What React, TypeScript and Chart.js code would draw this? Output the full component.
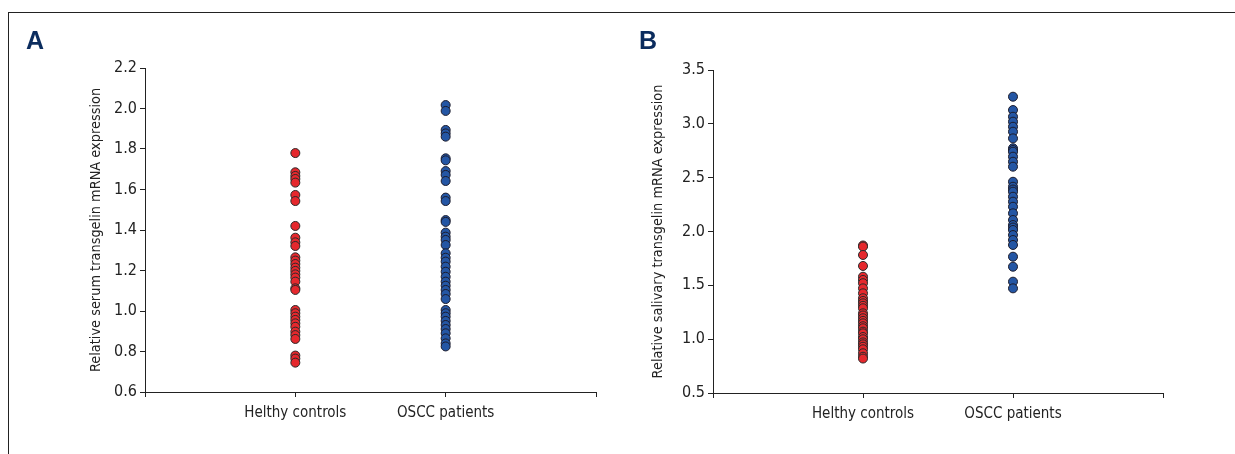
import React, { useEffect, useRef } from "react";
import { Chart, registerables } from "chart.js";

Chart.register(...registerables);

// Panel A: serum
const serumControls = [
  1.78, 1.685, 1.667, 1.652, 1.634, 1.573, 1.543, 1.42, 1.362, 1.339, 1.321,
  1.265, 1.249, 1.232, 1.214, 1.198, 1.181, 1.165, 1.145, 1.112, 1.104, 1.005,
  0.989, 0.972, 0.956, 0.939, 0.922, 0.898, 0.881, 0.862, 0.78, 0.765, 0.745,
];
const serumOSCC = [
  2.017, 1.988, 1.894, 1.877, 1.861, 1.754, 1.744, 1.691, 1.672, 1.642, 1.56,
  1.543, 1.449, 1.44, 1.387, 1.367, 1.351, 1.326, 1.285, 1.263, 1.244, 1.219,
  1.194, 1.169, 1.145, 1.125, 1.104, 1.084, 1.059, 1.005, 0.989, 0.972, 0.951,
  0.931, 0.911, 0.89, 0.865, 0.84, 0.825,
];
// Panel B: saliva
const salivaControls = [
  1.87, 1.86, 1.782, 1.68, 1.58, 1.55, 1.52, 1.472, 1.426, 1.38, 1.355, 1.333,
  1.31, 1.287, 1.24, 1.22, 1.194, 1.17, 1.147, 1.12, 1.101, 1.07, 1.054, 1.02,
  0.999, 0.97, 0.952, 0.93, 0.906, 0.869, 0.837, 0.82,
];
const salivaOSCC = [
  3.252, 3.128, 3.066, 3.02, 2.973, 2.927, 2.865, 2.773, 2.757, 2.741, 2.695,
  2.648, 2.602, 2.462, 2.416, 2.39, 2.37, 2.323, 2.277, 2.23, 2.169, 2.107,
  2.06, 2.037, 2.014, 1.967, 1.921, 1.875, 1.766, 1.673, 1.534, 1.472,
];

const groupLabels = ["", "Helthy controls", "OSCC patients", ""];

const FONT = '"DejaVu Sans Condensed", "Liberation Sans Narrow", "Noto Sans", sans-serif';
const RED = "#e5282d";
const BLUE = "#2456a4";
const INK = "#222222";

type PanelCfg = {
  controls: number[];
  oscc: number[];
  min: number;
  max: number;
  step: number;
  title: string;
  padLeft: number;
  padTop: number;
  padRight: number;
  yWidth: number;
  xHeight: number;
};

function makeConfig(p: PanelCfg): any {
  return {
    type: "scatter",
    data: {
      datasets: [
        {
          data: p.controls.map((v) => ({ x: 1, y: v })),
          backgroundColor: RED,
          borderColor: "#2a2a2a",
          borderWidth: 1,
          pointRadius: 4.5,
        },
        {
          data: p.oscc.map((v) => ({ x: 2, y: v })),
          backgroundColor: BLUE,
          borderColor: "#1c1c2c",
          borderWidth: 1,
          pointRadius: 4.5,
        },
      ],
    },
    options: {
      animation: false,
      responsive: false,
      maintainAspectRatio: false,
      events: [],
      layout: { padding: { left: p.padLeft, top: p.padTop, right: p.padRight, bottom: 0 } },
      plugins: { legend: { display: false }, tooltip: { enabled: false } },
      scales: {
        x: {
          type: "linear",
          min: 0,
          max: 3,
          afterFit: (s: any) => {
            s.height = p.xHeight;
          },
          afterBuildTicks: (s: any) => {
            s.ticks = [0, 1, 2, 3].map((v) => ({ value: v }));
          },
          ticks: {
            callback: (v: any) => groupLabels[Math.round(Number(v))] ?? "",
            color: INK,
            font: { family: FONT, size: 15 },
            padding: 7,
            maxRotation: 0,
            autoSkip: false,
          },
          grid: {
            drawOnChartArea: false,
            drawTicks: true,
            tickLength: 5,
            color: INK,
          },
          border: { display: true, color: INK, width: 1 },
        },
        y: {
          type: "linear",
          min: p.min,
          max: p.max,
          afterFit: (s: any) => {
            s.width = p.yWidth;
          },
          ticks: {
            stepSize: p.step,
            callback: (v: any) => Number(v).toFixed(1),
            color: INK,
            font: { family: FONT, size: 16 },
            padding: 3,
          },
          grid: {
            drawOnChartArea: false,
            drawTicks: true,
            tickLength: 5,
            color: INK,
          },
          border: { display: true, color: INK, width: 1 },
          title: {
            display: true,
            text: p.title,
            color: INK,
            font: { family: FONT, size: 14.4 },
            padding: 0,
          },
        },
      },
    },
  };
}

function Panel(props: { cfg: PanelCfg; left: number; width: number }) {
  const ref = useRef<HTMLCanvasElement | null>(null);
  useEffect(() => {
    if (!ref.current) return;
    const chart = new Chart(ref.current, makeConfig(props.cfg));
    return () => chart.destroy();
  }, []);
  return (
    <canvas
      ref={ref}
      width={props.width}
      height={454}
      style={{ position: "absolute", left: props.left, top: 0, width: props.width, height: 454 }}
    />
  );
}

const panelA: PanelCfg = {
  controls: serumControls,
  oscc: serumOSCC,
  min: 0.6,
  max: 2.2,
  step: 0.2,
  title: "Relative serum transgelin mRNA expression",
  padLeft: 88,
  padTop: 68,
  padRight: 21,
  yWidth: 57,
  xHeight: 62,
};

const panelB: PanelCfg = {
  controls: salivaControls,
  oscc: salivaOSCC,
  min: 0.5,
  max: 3.5,
  step: 0.5,
  title: "Relative salivary transgelin mRNA expression",
  padLeft: 33,
  padTop: 70,
  padRight: 72,
  yWidth: 63,
  xHeight: 61,
};

export default function App() {
  const letter: React.CSSProperties = {
    position: "absolute",
    fontFamily: '"Liberation Sans", Arial, sans-serif',
    fontWeight: 700,
    fontSize: 25,
    color: "#0b2c5e",
    lineHeight: "25px",
  };
  return (
    <div style={{ position: "absolute", left: 0, top: 0, width: 1235, height: 454, background: "#fff", overflow: "hidden" }}>
      <div style={{ position: "absolute", left: 8, top: 12, width: 1227, height: 0, borderTop: "1px solid #222" }} />
      <div style={{ position: "absolute", left: 8, top: 12, width: 0, height: 442, borderLeft: "1px solid #222" }} />
      <Panel cfg={panelA} left={0} width={617} />
      <Panel cfg={panelB} left={617} width={618} />
      <div style={{ ...letter, left: 26, top: 28 }}>A</div>
      <div style={{ ...letter, left: 639, top: 28 }}>B</div>
    </div>
  );
}
